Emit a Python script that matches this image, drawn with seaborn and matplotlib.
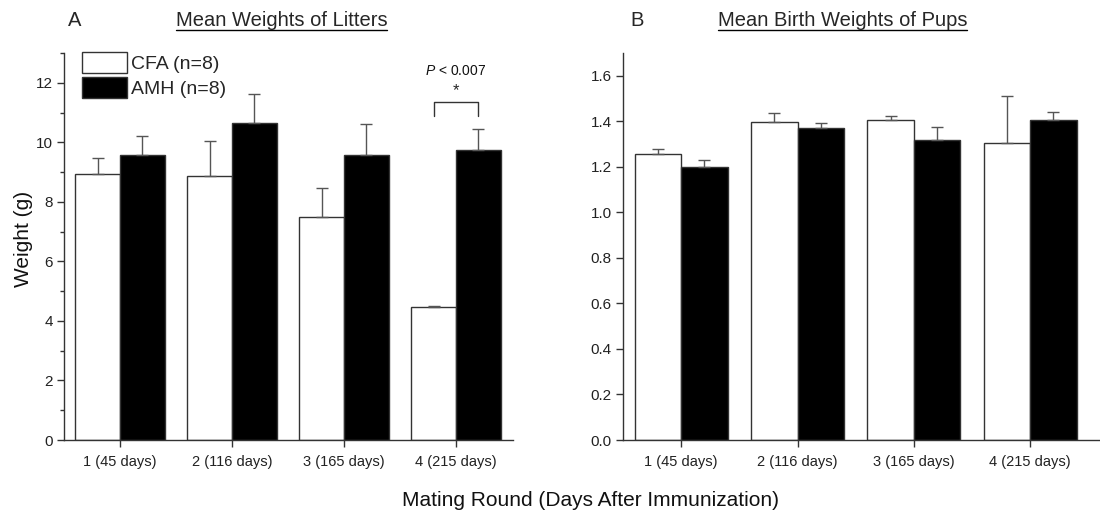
import matplotlib
matplotlib.use("Agg")
import matplotlib.pyplot as plt
import seaborn as sns
import pandas as pd
import numpy as np
from matplotlib.patches import Patch
from matplotlib.lines import Line2D
from matplotlib.ticker import MultipleLocator, FormatStrFormatter

# ---- data ----
rounds = ["1 (45 days)", "2 (116 days)", "3 (165 days)", "4 (215 days)"]
groups = ["CFA (n=8)", "AMH (n=8)"]

litter_cfa = [8.92, 8.86, 7.50, 4.46]
litter_cfa_err = [0.56, 1.18, 0.95, 0.05]
litter_amh = [9.57, 10.64, 9.56, 9.74]
litter_amh_err = [0.63, 0.99, 1.06, 0.70]

pup_cfa = [1.255, 1.395, 1.405, 1.305]
pup_cfa_err = [0.024, 0.041, 0.019, 0.206]
pup_amh = [1.200, 1.370, 1.320, 1.406]
pup_amh_err = [0.030, 0.023, 0.056, 0.034]

sns.set_theme(style="ticks")
plt.rcParams["font.family"] = ["Liberation Sans", "DejaVu Sans"]
plt.rcParams["mathtext.fontset"] = "custom"
plt.rcParams["mathtext.rm"] = "Liberation Sans"
plt.rcParams["mathtext.it"] = "Liberation Sans:italic"

EDGE = "#333333"
palette = {groups[0]: "white", groups[1]: "black"}


def make_frame(cfa, amh):
    return pd.DataFrame({
        "round": rounds * 2,
        "group": [groups[0]] * len(rounds) + [groups[1]] * len(rounds),
        "value": list(cfa) + list(amh),
    })


fig = plt.figure(figsize=(11, 5.18), dpi=100)
axA = fig.add_axes([64 / 1100, 1 - 440 / 518, 449 / 1100, 387 / 518])
axB = fig.add_axes([623 / 1100, 1 - 440 / 518, 477 / 1100, 387 / 518])


def draw_panel(ax, cfa, cfa_err, amh, amh_err):
    df = make_frame(cfa, amh)
    sns.barplot(data=df, x="round", y="value", hue="group", hue_order=groups,
                palette=palette, edgecolor=EDGE, linewidth=1.0,
                errorbar=None, width=0.8, legend=False, ax=ax)
    centers = []
    for cont, err in zip(ax.containers, [cfa_err, amh_err]):
        xs = [b.get_x() + b.get_width() / 2 for b in cont]
        ys = [b.get_height() for b in cont]
        ax.errorbar(xs, ys, yerr=[np.zeros(len(err)), err], fmt="none",
                    ecolor="#555555", elinewidth=1.0, capsize=4.5,
                    capthick=1.0, zorder=1)
        centers.append(xs)
    for sp in ["top", "right"]:
        ax.spines[sp].set_visible(False)
    for sp in ["left", "bottom"]:
        ax.spines[sp].set_color(EDGE)
        ax.spines[sp].set_linewidth(1.0)
    ax.tick_params(axis="both", which="major", length=5, width=1.0,
                   color=EDGE, labelcolor="#222222", pad=3)
    ax.tick_params(axis="y", labelsize=11)
    ax.tick_params(axis="x", labelsize=10.5, pad=6)
    ax.set_xlabel("")
    ax.set_ylabel("")
    return centers


cA = draw_panel(axA, litter_cfa, litter_cfa_err, litter_amh, litter_amh_err)
axA.set_xlim(-0.5, 3.51)
axA.set_ylim(0, 13)
axA.yaxis.set_major_locator(MultipleLocator(2))
axA.yaxis.set_minor_locator(MultipleLocator(1))
axA.tick_params(axis="y", which="minor", length=3, width=1.0, color=EDGE)
axA.set_ylabel("Weight (g)", fontsize=15, color="#111111")
axA.yaxis.set_label_coords(-0.069, 0.52)

# significance bracket on round 4
x1, x2 = cA[0][3], cA[1][3]
axA.plot([x1, x1, x2, x2], [10.87, 11.34, 11.34, 10.87], color=EDGE, lw=1.0)
axA.text((x1 + x2) / 2, 11.72, "*", ha="center", va="center", fontsize=12)
axA.text((x1 + x2) / 2, 12.4, r"$\it{P}$ < 0.007", ha="center", va="center",
         fontsize=10, color="#111111")

legend_handles = [Patch(facecolor=palette[g], edgecolor=EDGE, linewidth=1.0) for g in groups]
axA.legend(legend_handles, groups, loc="upper left", bbox_to_anchor=(0.04, 1.0025),
           frameon=False, fontsize=14, handlelength=2.3, handleheight=1.25,
           labelspacing=0.22, handletextpad=0.2, borderpad=0.0, borderaxespad=0.0)

draw_panel(axB, pup_cfa, pup_cfa_err, pup_amh, pup_amh_err)
axB.set_xlim(-0.5, 3.6)
axB.set_ylim(0, 1.7)
axB.yaxis.set_major_locator(MultipleLocator(0.2))
axB.yaxis.set_major_formatter(FormatStrFormatter("%.1f"))

# panel letters and underlined titles
fig.text(68 / 1100, 1 - 20 / 518, "A", fontsize=14.5, ha="left", va="center")
fig.text(630 / 1100, 1 - 20 / 518, "B", fontsize=14.5, ha="left", va="center")
tA = fig.text(281.5 / 1100, 1 - 20 / 518, "Mean Weights of Litters",
              fontsize=14.5, ha="center", va="center")
tB = fig.text(842.5 / 1100, 1 - 20 / 518, "Mean Birth Weights of Pups",
              fontsize=14.5, ha="center", va="center")

fig.text(590 / 1100, 1 - 500 / 518, "Mating Round (Days After Immunization)",
         fontsize=15, ha="center", va="center", color="#111111")

fig.canvas.draw()
renderer = fig.canvas.get_renderer()
inv = fig.transFigure.inverted()
for t in (tA, tB):
    bb = t.get_window_extent(renderer)
    (x0, y0), (x1b, _) = inv.transform([(bb.x0, bb.y0), (bb.x1, bb.y0)])
    y_line = y0 - 1.0 / 518
    fig.add_artist(Line2D([x0, x1b], [y_line, y_line], transform=fig.transFigure,
                          color="black", lw=1.0))

fig.savefig("out.png", dpi=100)
